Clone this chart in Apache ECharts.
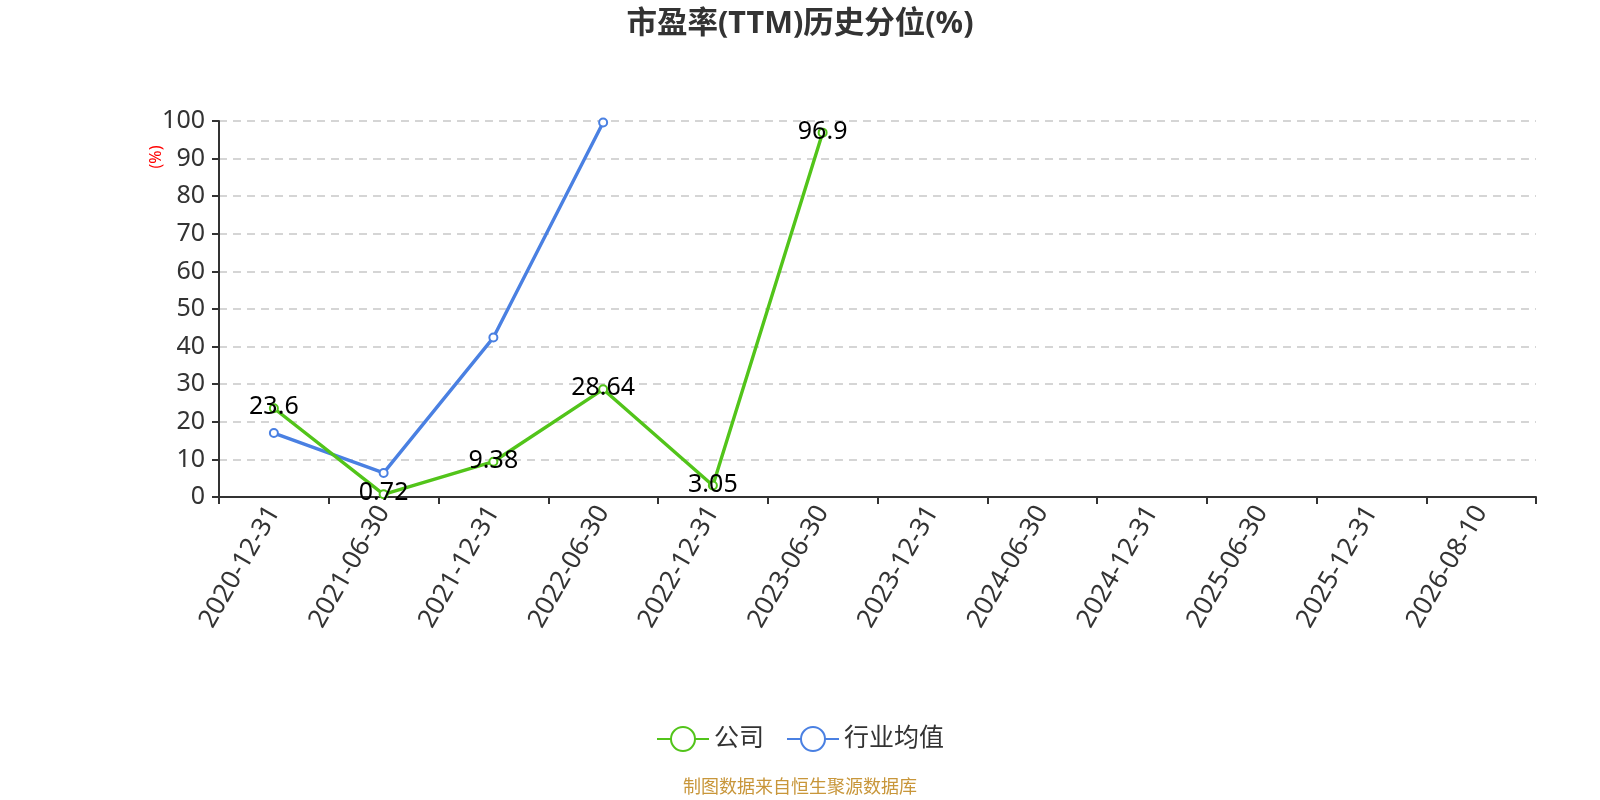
<!DOCTYPE html>
<html>
<head>
<meta charset="utf-8">
<script src="https://cdn.jsdelivr.net/npm/echarts@6/dist/echarts.min.js"></script>
<style>
html,body{margin:0;padding:0;background:#fff;}
#c{width:1600px;height:800px;}
</style>
</head>
<body>
<div id="c"></div>
<script>
const titleText = '市盈率(TTM)历史分位(%)';
const categories = ['2020-12-31','2021-06-30','2021-12-31','2022-06-30','2022-12-31','2023-06-30','2023-12-31','2024-06-30','2024-12-31','2025-06-30','2025-12-31','2026-08-10'];
const companyName = '公司';
const companyValues = [23.6, 0.72, 9.38, 28.64, 3.05, 96.9, null, null, null, null, null, null];
const industryName = '行业均值';
const industryValues = [17.0, 6.4, 42.4, 99.6, null, null, null, null, null, null, null, null];
const yTicks = {min: 0, max: 100, interval: 10};
const yUnit = '(%)';
const footer = '制图数据来自恒生聚源数据库';

const FONT = '"Noto Sans", "Noto Sans CJK SC", sans-serif';
const chart = echarts.init(document.getElementById('c'));
chart.setOption({
  backgroundColor: '#fff',
  animation: false,
  textStyle: {fontFamily: FONT},
  title: {
    text: titleText,
    left: 'center',
    top: 4,
    textStyle: {fontSize: 30.5, fontWeight: 'bold', color: '#333', fontFamily: FONT}
  },
  grid: {left: 219, right: 64, top: 121, bottom: 303, containLabel: false},
  legend: {
    data: [companyName, industryName],
    left: 'center',
    top: 721,
    itemWidth: 52,
    itemHeight: 30,
    itemGap: 22,
    textStyle: {fontSize: 25, color: '#333', fontFamily: FONT}
  },
  xAxis: {
    type: 'category',
    data: categories,
    boundaryGap: true,
    axisLine: {lineStyle: {color: '#333', width: 2}},
    axisTick: {show: true, length: 7, lineStyle: {color: '#333', width: 2}},
    axisLabel: {rotate: 60, fontSize: 26, color: '#333', margin: 11, interval: 0, fontFamily: FONT},
    splitLine: {show: false}
  },
  yAxis: {
    type: 'value',
    min: yTicks.min,
    max: yTicks.max,
    interval: yTicks.interval,
    axisLine: {show: true, lineStyle: {color: '#333', width: 2}},
    axisTick: {show: true, length: 7, lineStyle: {color: '#333', width: 2}},
    axisLabel: {fontSize: 25, color: '#333', margin: 14, fontFamily: FONT},
    splitLine: {show: true, lineStyle: {type: [8, 6], color: '#c8c8c8', width: 1.5}}
  },
  graphic: [
    {
      type: 'text',
      x: 156,
      y: 157,
      rotation: Math.PI / 2,
      style: {text: yUnit, fill: '#ff0000', fontSize: 16, fontFamily: FONT, align: 'center', verticalAlign: 'middle'}
    },
    {
      type: 'text',
      left: 'center',
      top: 777,
      style: {text: footer, fill: '#c8963a', fontSize: 18, fontFamily: '"Noto Sans CJK SC", sans-serif'}
    }
  ],
  series: [
    {
      name: companyName,
      type: 'line',
      data: companyValues,
      connectNulls: false,
      symbol: 'emptyCircle',
      symbolSize: 8,
      itemStyle: {color: '#52c41a', borderWidth: 2},
      lineStyle: {width: 3.4, color: '#52c41a'},
      label: {show: true, position: 'inside', offset: [0, -1], fontSize: 25, color: '#000', fontFamily: FONT},
      z: 3
    },
    {
      name: industryName,
      type: 'line',
      data: industryValues,
      connectNulls: false,
      symbol: 'emptyCircle',
      symbolSize: 8,
      itemStyle: {color: '#4a80e2', borderWidth: 2},
      lineStyle: {width: 3.4, color: '#4a80e2'},
      label: {show: false},
      z: 2
    }
  ]
});
</script>
</body>
</html>
